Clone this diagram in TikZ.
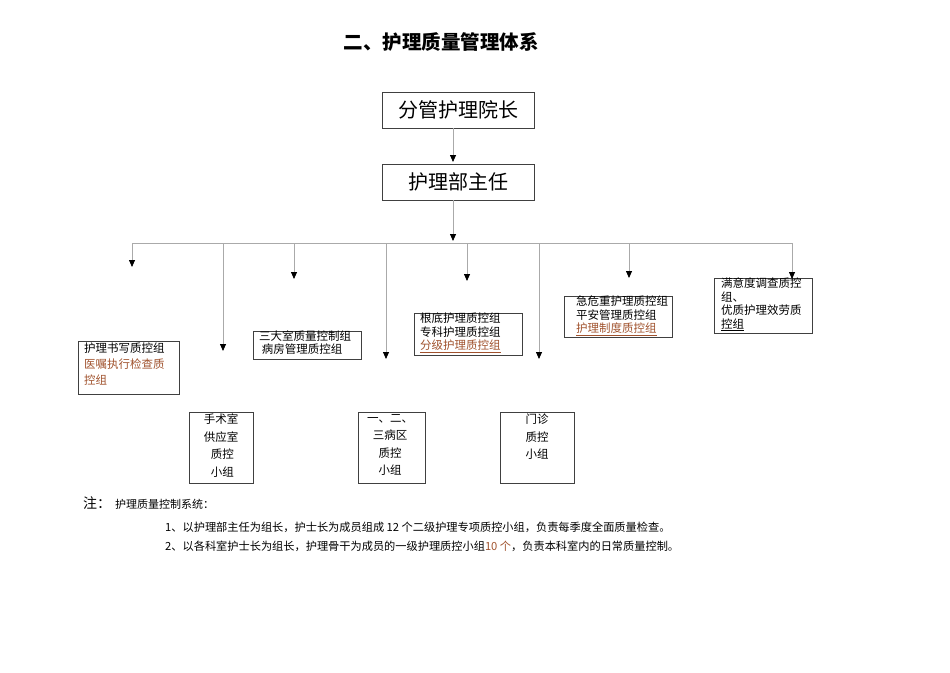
\documentclass[tikz,border=0pt]{standalone}
\usepackage{fontspec}
\setmainfont{Noto Sans CJK SC}
\usetikzlibrary{arrows.meta}
\definecolor{brn}{RGB}{160,82,45}
\definecolor{ln}{RGB}{170,170,170}
\tikzset{
 bx/.style={draw=black!75,line width=0.8pt},
 big/.style={draw=black!75,line width=0.8pt,minimum width=152pt,minimum height=36pt,font=\fontsize{20}{22}\selectfont},
 tx/.style={anchor=north west,inner sep=0pt,font=\fontsize{11.5}{16}\selectfont,align=left},
 arr/.style={draw=ln,line width=0.8pt,-{Triangle[length=7pt,width=6pt,color=black]}},
 wire/.style={draw=ln,line width=0.8pt}
}
\begin{document}
\begin{tikzpicture}[x=1pt,y=-1pt]
\useasboundingbox (0,0) rectangle (950,672);
\node[font=\bfseries\fontsize{19.5}{22}\selectfont] (title) at (441,42) {二、护理质量管理体系};
\node[big] (top) at (458,110) {分管护理院长};
\node[big] (dir) at (458,182) {护理部主任};
\draw[arr] (453,128) -- (453,162);
\coordinate (hub) at (453,241);
\draw[arr] (453,200) -- (hub);
\draw[wire] (132,243) -- (792,243);
\foreach \x/\y/\n in {132/267/a,223/351/b,294/279/c,386/359/d,467/281/e,539/359/f,629/278/g,792/279/h}{
  \coordinate (t\n) at (\x,\y);
  \draw[arr] (\x,243) -- (t\n);
}
% boxes
\draw[bx] (78,341) rectangle (179,394);
\node[tx] (ba) at (84,343) {护理书写质控组\\\textcolor{brn}{医嘱执行检查质}\\\textcolor{brn}{控组}};
\draw[bx] (253,331) rectangle (361,359);
\node[tx,font=\fontsize{11.5}{13}\selectfont] (bb) at (259,331) {三大室质量控制组\\\ 病房管理质控组};
\draw[bx] (414,313) rectangle (522,355);
\node[tx,font=\fontsize{11.5}{13.5}\selectfont] (bc) at (420,313) {根底护理质控组\\专科护理质控组\\\textcolor{brn}{\underline{分级护理质控组}}};
\draw[bx] (564,296) rectangle (672,337);
\node[tx,font=\fontsize{11.5}{13.5}\selectfont] (bd) at (576,296) {急危重护理质控组\\平安管理质控组\\\textcolor{brn}{\underline{护理制度质控组}}};
\draw[bx] (714,278) rectangle (812,333);
\node[tx,font=\fontsize{11.5}{13.5}\selectfont] (be) at (721,278) {满意度调查质控\\组、\\优质护理效劳质\\\underline{控组}};
\draw[bx] (189,412) rectangle (253,483);
\node[font=\fontsize{11.5}{17.5}\selectfont,align=center,inner sep=0pt,anchor=north] (bf) at (221,414) {手术室\\供应室\\\ 质控\\\ 小组};
\draw[bx] (358,412) rectangle (425,483);
\node[font=\fontsize{11.5}{17.5}\selectfont,align=center,inner sep=0pt,anchor=north] (bg) at (390,414) {一、二、\\三病区\\质控\\小组};
\draw[bx] (500,412) rectangle (574,483);
\node[font=\fontsize{11.5}{17.5}\selectfont,align=center,inner sep=0pt,anchor=north] (bh) at (537,414) {门诊\\质控\\小组};
% notes
\node[anchor=west,inner sep=0pt,font=\fontsize{14}{15}\selectfont] (n0) at (83,503) {注：};
\node[anchor=west,inner sep=0pt,font=\fontsize{11}{12}\selectfont] (n1) at (115,504) {护理质量控制系统：};
\node[anchor=west,inner sep=0pt,font=\fontsize{11.2}{12}\selectfont] (n2) at (165,527) {1、以护理部主任为组长，护士长为成员组成 12 个二级护理专项质控小组，负责每季度全面质量检查。};
\node[anchor=west,inner sep=0pt,font=\fontsize{11.2}{12}\selectfont] (n3) at (165,546) {2、以各科室护士长为组长，护理骨干为成员的一级护理质控小组\textcolor{brn}{ 10 个}，负责本科室内的日常质量控制。};
\end{tikzpicture}
\end{document}
